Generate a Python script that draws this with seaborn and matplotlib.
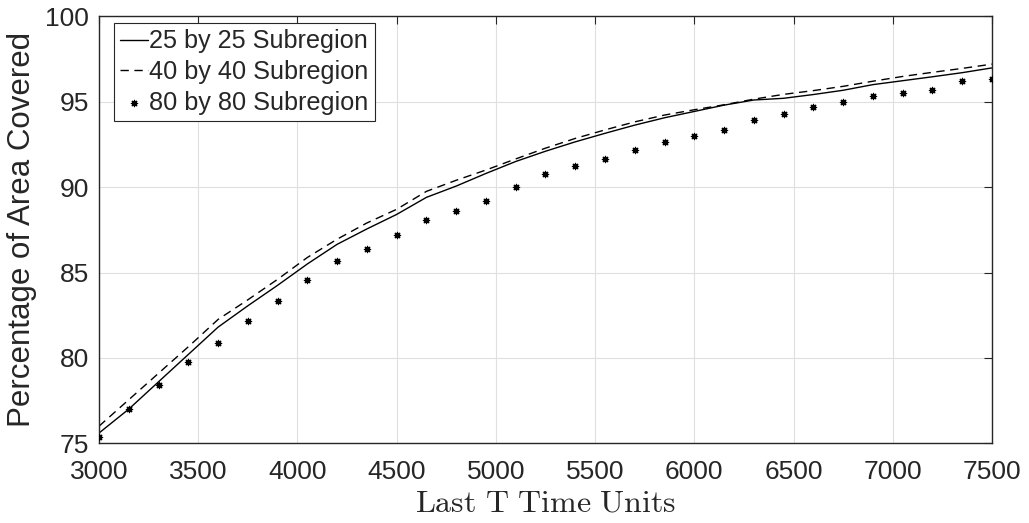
import numpy as np
import pandas as pd
import matplotlib
matplotlib.use("Agg")
import matplotlib.pyplot as plt
import seaborn as sns

T = list(range(3000, 7501, 150))

sub25 = [75.6, 77.0, 78.6, 80.2, 81.8, 83.05, 84.25, 85.5, 86.65, 87.55,
         88.4, 89.4, 90.06, 90.8, 91.5, 92.1, 92.65, 93.15, 93.63, 94.06,
         94.43, 94.8, 95.1, 95.2, 95.42, 95.67, 96.0, 96.23, 96.46, 96.7, 96.98]
sub40 = [76.0, 77.55, 79.1, 80.65, 82.25, 83.4, 84.6, 85.88, 86.95, 87.9,
         88.7, 89.75, 90.4, 91.0, 91.65, 92.28, 92.85, 93.35, 93.82, 94.22,
         94.53, 94.82, 95.15, 95.43, 95.65, 95.9, 96.2, 96.48, 96.72, 96.95, 97.2]
sub80 = [75.37, 77.0, 78.4, 79.75, 80.87, 82.18, 83.33, 84.57, 85.7, 86.35,
         87.17, 88.06, 88.6, 89.2, 89.98, 90.76, 91.24, 91.67, 92.16, 92.67,
         92.98, 93.35, 93.95, 94.3, 94.67, 94.99, 95.36, 95.52, 95.7, 96.22, 96.34]

labels = ["25 by 25 Subregion", "40 by 40 Subregion", "80 by 80 Subregion"]
xticks = [3000, 3500, 4000, 4500, 5000, 5500, 6000, 6500, 7000, 7500]
yticks = [75, 80, 85, 90, 95, 100]

sns.set_theme(style="white")
plt.rcParams["font.family"] = ["Liberation Sans", "DejaVu Sans"]
plt.rcParams["mathtext.fontset"] = "cm"

fig = plt.figure(figsize=(10.29, 5.23), dpi=100)
ax = fig.add_axes([0.0962, 0.1524, 0.8678, 0.8164])

df = pd.DataFrame({"T": T, "s25": sub25, "s40": sub40, "s80": sub80})
sns.lineplot(data=df, x="T", y="s25", ax=ax, color="black", lw=1.0, label=labels[0])
sns.lineplot(data=df, x="T", y="s40", ax=ax, color="black", lw=1.0, dashes=False,
             linestyle=(0, (6, 4)), label=labels[1])
sns.scatterplot(data=df, x="T", y="s80", ax=ax, color="black", marker=(8, 2, 0),
                s=20, linewidth=0.9, edgecolor="black", label=labels[2], zorder=3)

ax.set_xlim(3000, 7500)
ax.set_ylim(75, 100)
ax.set_xticks(xticks)
ax.set_yticks(yticks)
ax.grid(True, color="#dfdfdf", lw=0.8)
ax.set_axisbelow(True)
for sp in ax.spines.values():
    sp.set_visible(True)
    sp.set_color("#262626")
    sp.set_linewidth(1.0)
ax.tick_params(axis="both", which="both", direction="in", length=6, width=0.8,
               color="#262626", labelsize=19, top=True, right=True,
               labelcolor="#262626")
ax.tick_params(axis="x", pad=12)
ax.tick_params(axis="y", pad=7)
ax.set_xlabel(r"$\mathrm{Last\ T\ Time\ Units}$", fontsize=23, color="#262626", labelpad=3)
ax.set_ylabel("Percentage of Area Covered", fontsize=22.5, color="#262626", labelpad=6)

leg = ax.legend(loc="upper left", bbox_to_anchor=(0.0168, 0.984), borderaxespad=0,
                fontsize=18.2, frameon=True, fancybox=False,
                edgecolor="#262626", framealpha=1, borderpad=0.25, labelspacing=0.26,
                handlelength=1.1, handletextpad=0.05)
leg.get_frame().set_linewidth(0.8)

fig.savefig("out.png", dpi=100)
